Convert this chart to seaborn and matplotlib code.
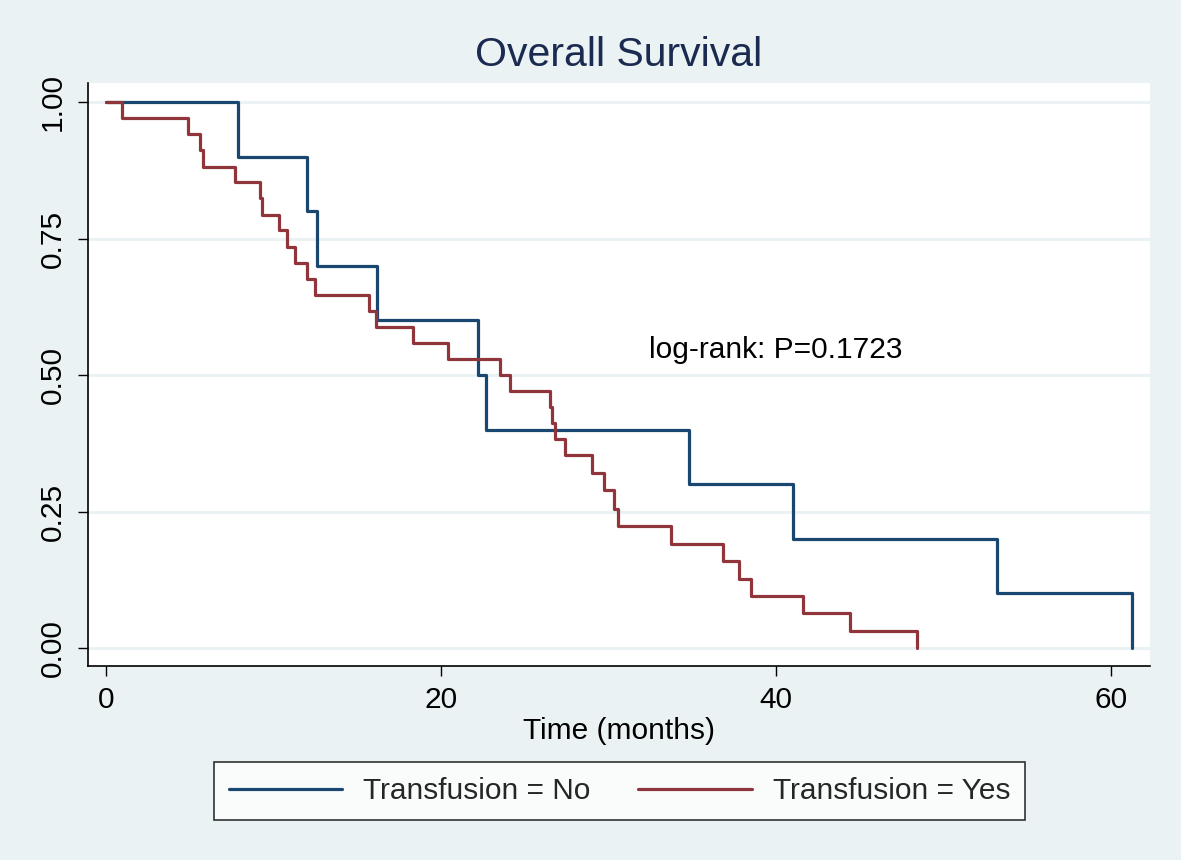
import numpy as np
import pandas as pd
import matplotlib
matplotlib.use("Agg")
import matplotlib.pyplot as plt
import seaborn as sns

# Kaplan-Meier step values
no_time = [0, 7.9, 12.0, 12.6, 16.2, 22.2, 22.7, 34.8, 41.0, 53.2, 61.2]
no_surv = [1.0, 0.9, 0.8, 0.7, 0.6, 0.5, 0.4, 0.3, 0.2, 0.1, 0.0]

yes_time = [0, 0.97, 4.9, 5.6, 5.8, 7.7, 9.2, 9.3, 10.3, 10.8, 11.3, 12.0, 12.5,
            15.7, 16.1, 18.35, 20.4, 23.5, 24.1, 26.5, 26.6, 26.8, 27.4, 29.0,
            29.7, 30.3, 30.55, 33.7, 36.8, 37.75, 38.5, 41.6, 44.4, 48.4]
yes_surv = [1.0, 0.971, 0.941, 0.912, 0.882, 0.853, 0.824, 0.794, 0.765, 0.735,
            0.706, 0.676, 0.647, 0.618, 0.588, 0.559, 0.529, 0.5, 0.47, 0.441,
            0.412, 0.382, 0.353, 0.321, 0.29, 0.255, 0.223, 0.191, 0.159, 0.127,
            0.095, 0.064, 0.032, 0.0]

groups = ["Transfusion = No", "Transfusion = Yes"]
x_ticks = [0, 20, 40, 60]
y_ticks = [0.0, 0.25, 0.5, 0.75, 1.0]
y_labels = ["0.00", "0.25", "0.50", "0.75", "1.00"]
pval_text = "log-rank: P=0.1723"

df = pd.concat([
    pd.DataFrame({"time": no_time, "surv": no_surv, "group": groups[0]}),
    pd.DataFrame({"time": yes_time, "surv": yes_surv, "group": groups[1]}),
], ignore_index=True)

sns.set_theme(style="white")
plt.rcParams["font.family"] = ["Liberation Sans", "DejaVu Sans"]
plt.rcParams["font.size"] = 21.5

bg = "#eaf2f3"
fig = plt.figure(figsize=(11.81, 8.6), dpi=100, facecolor=bg)
ax = fig.add_axes([88 / 1181, 1 - 666 / 860, (1150 - 88) / 1181, (666 - 83) / 860])
ax.set_facecolor("white")

palette = {groups[0]: "#1a476f", groups[1]: "#90353b"}
sns.lineplot(data=df, x="time", y="surv", hue="group", palette=palette,
             drawstyle="steps-post", estimator=None, sort=False,
             linewidth=2.3, ax=ax, legend=False)

for y in y_ticks:
    ax.axhline(y, color=bg, linewidth=2.2, zorder=0)

ax.set_xlim(-1.07, 62.3)
ax.set_ylim(-0.033, 1.035)
ax.set_xticks(x_ticks)
ax.set_yticks(y_ticks)
ax.set_yticklabels(y_labels, rotation=90, va="center")
ax.tick_params(axis="both", direction="out", length=7.5, width=1, color="black",
               labelsize=21.5, labelcolor="black", bottom=True, left=True)
ax.tick_params(axis="x", pad=7)
ax.tick_params(axis="y", pad=8)
for side in ["top", "right"]:
    ax.spines[side].set_visible(False)
for side in ["left", "bottom"]:
    ax.spines[side].set_color("black")
    ax.spines[side].set_linewidth(1.2)

ax.set_xlabel("Time (months)", fontsize=21.5, labelpad=2, color="black")
ax.set_ylabel("")
ax.text(32.4, 0.545, pval_text, fontsize=21.5, va="center", ha="left", color="black")

fig.text(619 / 1181, 1 - 55 / 860, "Overall Survival", fontsize=29.5,
         color="#1a2a50", ha="center", va="center")

handles = [plt.Line2D([], [], color=palette[g], linewidth=2.3) for g in groups]
leg = fig.legend(handles, groups, loc="center", bbox_to_anchor=(619.5 / 1181, 1 - 791 / 860),
                 ncol=2, frameon=True, fancybox=False, fontsize=21.5,
                 handlelength=3.8, handletextpad=0.7, columnspacing=1.6,
                 borderpad=0.5)
leg.get_frame().set_edgecolor("black")
leg.get_frame().set_linewidth(1.2)
leg.get_frame().set_facecolor("white")

fig.savefig("out.png", dpi=100, facecolor=bg)
